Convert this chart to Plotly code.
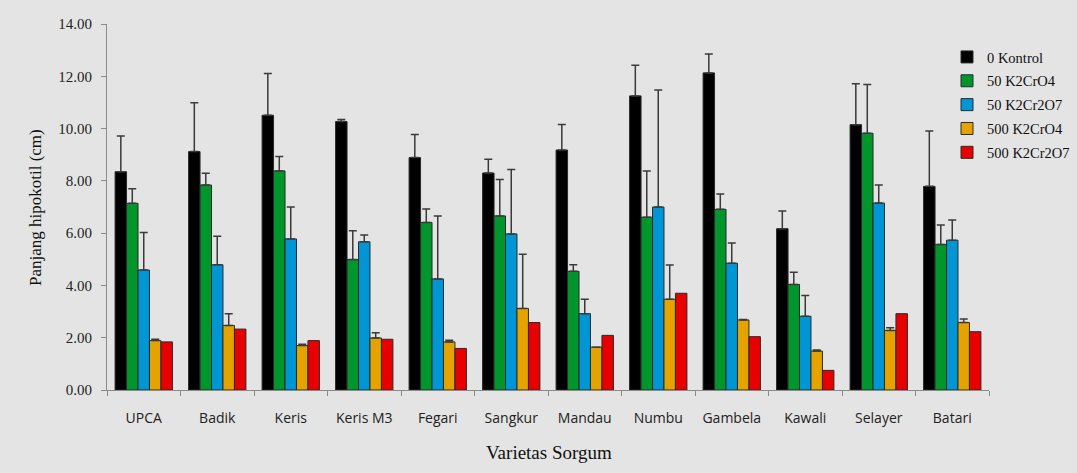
import plotly.graph_objects as go

# Hypocotyl length (cm) per sorghum variety under each chromium treatment
varieties = ["UPCA", "Badik", "Keris", "Keris M3", "Fegari", "Sangkur",
             "Mandau", "Numbu", "Gambela", "Kawali", "Selayer", "Batari"]

treatments = ["0 Kontrol", "50 K2CrO4", "50 K2Cr2O7", "500 K2CrO4", "500 K2Cr2O7"]

kontrol      = [8.35, 9.12, 10.51, 10.27, 8.89, 8.30, 9.18, 11.25, 12.13, 6.17, 10.15, 7.79]
k2cro4_50    = [7.14, 7.84, 8.38, 4.99, 6.41, 6.66, 4.54, 6.61, 6.91, 4.04, 9.82, 5.57]
k2cr2o7_50   = [4.59, 4.79, 5.78, 5.67, 4.25, 5.97, 2.92, 7.00, 4.85, 2.82, 7.15, 5.73]
k2cro4_500   = [1.89, 2.47, 1.70, 1.99, 1.84, 3.12, 1.64, 3.47, 2.68, 1.49, 2.28, 2.58]
k2cr2o7_500  = [1.84, 2.33, 1.89, 1.94, 1.59, 2.58, 2.09, 3.70, 2.04, 0.75, 2.92, 2.23]

# Upper error (standard deviation) for each bar
err_kontrol     = [1.37, 1.87, 1.60, 0.08, 0.88, 0.53, 0.98, 1.17, 0.72, 0.68, 1.56, 2.12]
err_k2cro4_50   = [0.56, 0.45, 0.55, 1.10, 0.51, 1.39, 0.25, 1.77, 0.59, 0.46, 1.87, 0.74]
err_k2cr2o7_50  = [1.43, 1.09, 1.22, 0.26, 2.41, 2.46, 0.55, 4.48, 0.77, 0.79, 0.69, 0.77]
err_k2cro4_500  = [0.05, 0.45, 0.05, 0.20, 0.06, 2.07, 0.00, 1.31, 0.02, 0.04, 0.10, 0.14]
err_k2cr2o7_500 = [0.00, 0.00, 0.00, 0.00, 0.00, 0.00, 0.00, 0.00, 0.00, 0.00, 0.00, 0.00]

y_ticks = [0, 2, 4, 6, 8, 10, 12, 14]

series = [kontrol, k2cro4_50, k2cr2o7_50, k2cro4_500, k2cr2o7_500]
errors = [err_kontrol, err_k2cro4_50, err_k2cr2o7_50, err_k2cro4_500, err_k2cr2o7_500]
colors = ["#000000", "#00962C", "#0095D5", "#E5A300", "#E80000"]

BG = "#e4e4e4"
SERIF = "Liberation Serif, Times New Roman, serif"
SANS = "Open Sans, Noto Sans, sans-serif"

fig = go.Figure()
for i, (name, vals, err, col) in enumerate(zip(treatments, series, errors, colors)):
    has_err = any(e > 0 for e in err)
    fig.add_trace(go.Bar(
        x=varieties, y=vals, name=name,
        legendgroup=f"g{i}",
        marker=dict(color=col, line=dict(color="#2a2a2a", width=1)),
        error_y=dict(type="data", array=err, arrayminus=[0] * len(err),
                     symmetric=False, color="#3a3a3a", thickness=1.5, width=4,
                     visible=has_err),
    ))

# Plot area geometry in pixels
W, H = 1077, 473
L, R, T, B = 107, 989, 24, 390
pw, ph = R - L, B - T

def px_x(x):
    return (x - L) / pw

def px_y(y):
    return (B - y) / ph

fig.update_layout(
    width=W, height=H,
    margin=dict(l=L, r=W - R, t=T, b=H - B, autoexpand=False),
    paper_bgcolor=BG, plot_bgcolor=BG,
    barmode="group", bargap=0.22, bargroupgap=0,
    showlegend=True,
    legend=dict(x=px_x(947), y=px_y(41), xanchor="left", yanchor="top",
                bgcolor="rgba(0,0,0,0)", font=dict(family=SERIF, size=14.5, color="#111"),
                traceorder="grouped", tracegroupgap=2, itemwidth=30),
    xaxis=dict(showline=True, linecolor="#8a8a8a", linewidth=1,
               ticks="outside", tickson="boundaries", ticklen=5, tickcolor="#8a8a8a",
               tickfont=dict(family=SANS, size=14, color="#222"),
               ticklabelstandoff=15, showgrid=False, zeroline=False),
    yaxis=dict(range=[0, 14], tickvals=y_ticks, tickformat=".2f",
               showline=True, linecolor="#8a8a8a", linewidth=1,
               ticks="outside", ticklen=5, tickcolor="#8a8a8a",
               tickfont=dict(family=SERIF, size=15, color="#222"),
               ticklabelstandoff=6, showgrid=False, zeroline=False),
    annotations=[
        dict(text="Varietas Sorgum", xref="paper", yref="paper",
             x=px_x(549), y=px_y(452), xanchor="center", yanchor="middle",
             showarrow=False, font=dict(family=SERIF, size=19, color="#111")),
        dict(text="Panjang hipokotil (cm)", xref="paper", yref="paper",
             x=px_x(35), y=px_y(208), xanchor="center", yanchor="middle",
             textangle=-90, showarrow=False,
             font=dict(family=SERIF, size=17, color="#111")),
    ],
)

fig.write_html("out.html")
